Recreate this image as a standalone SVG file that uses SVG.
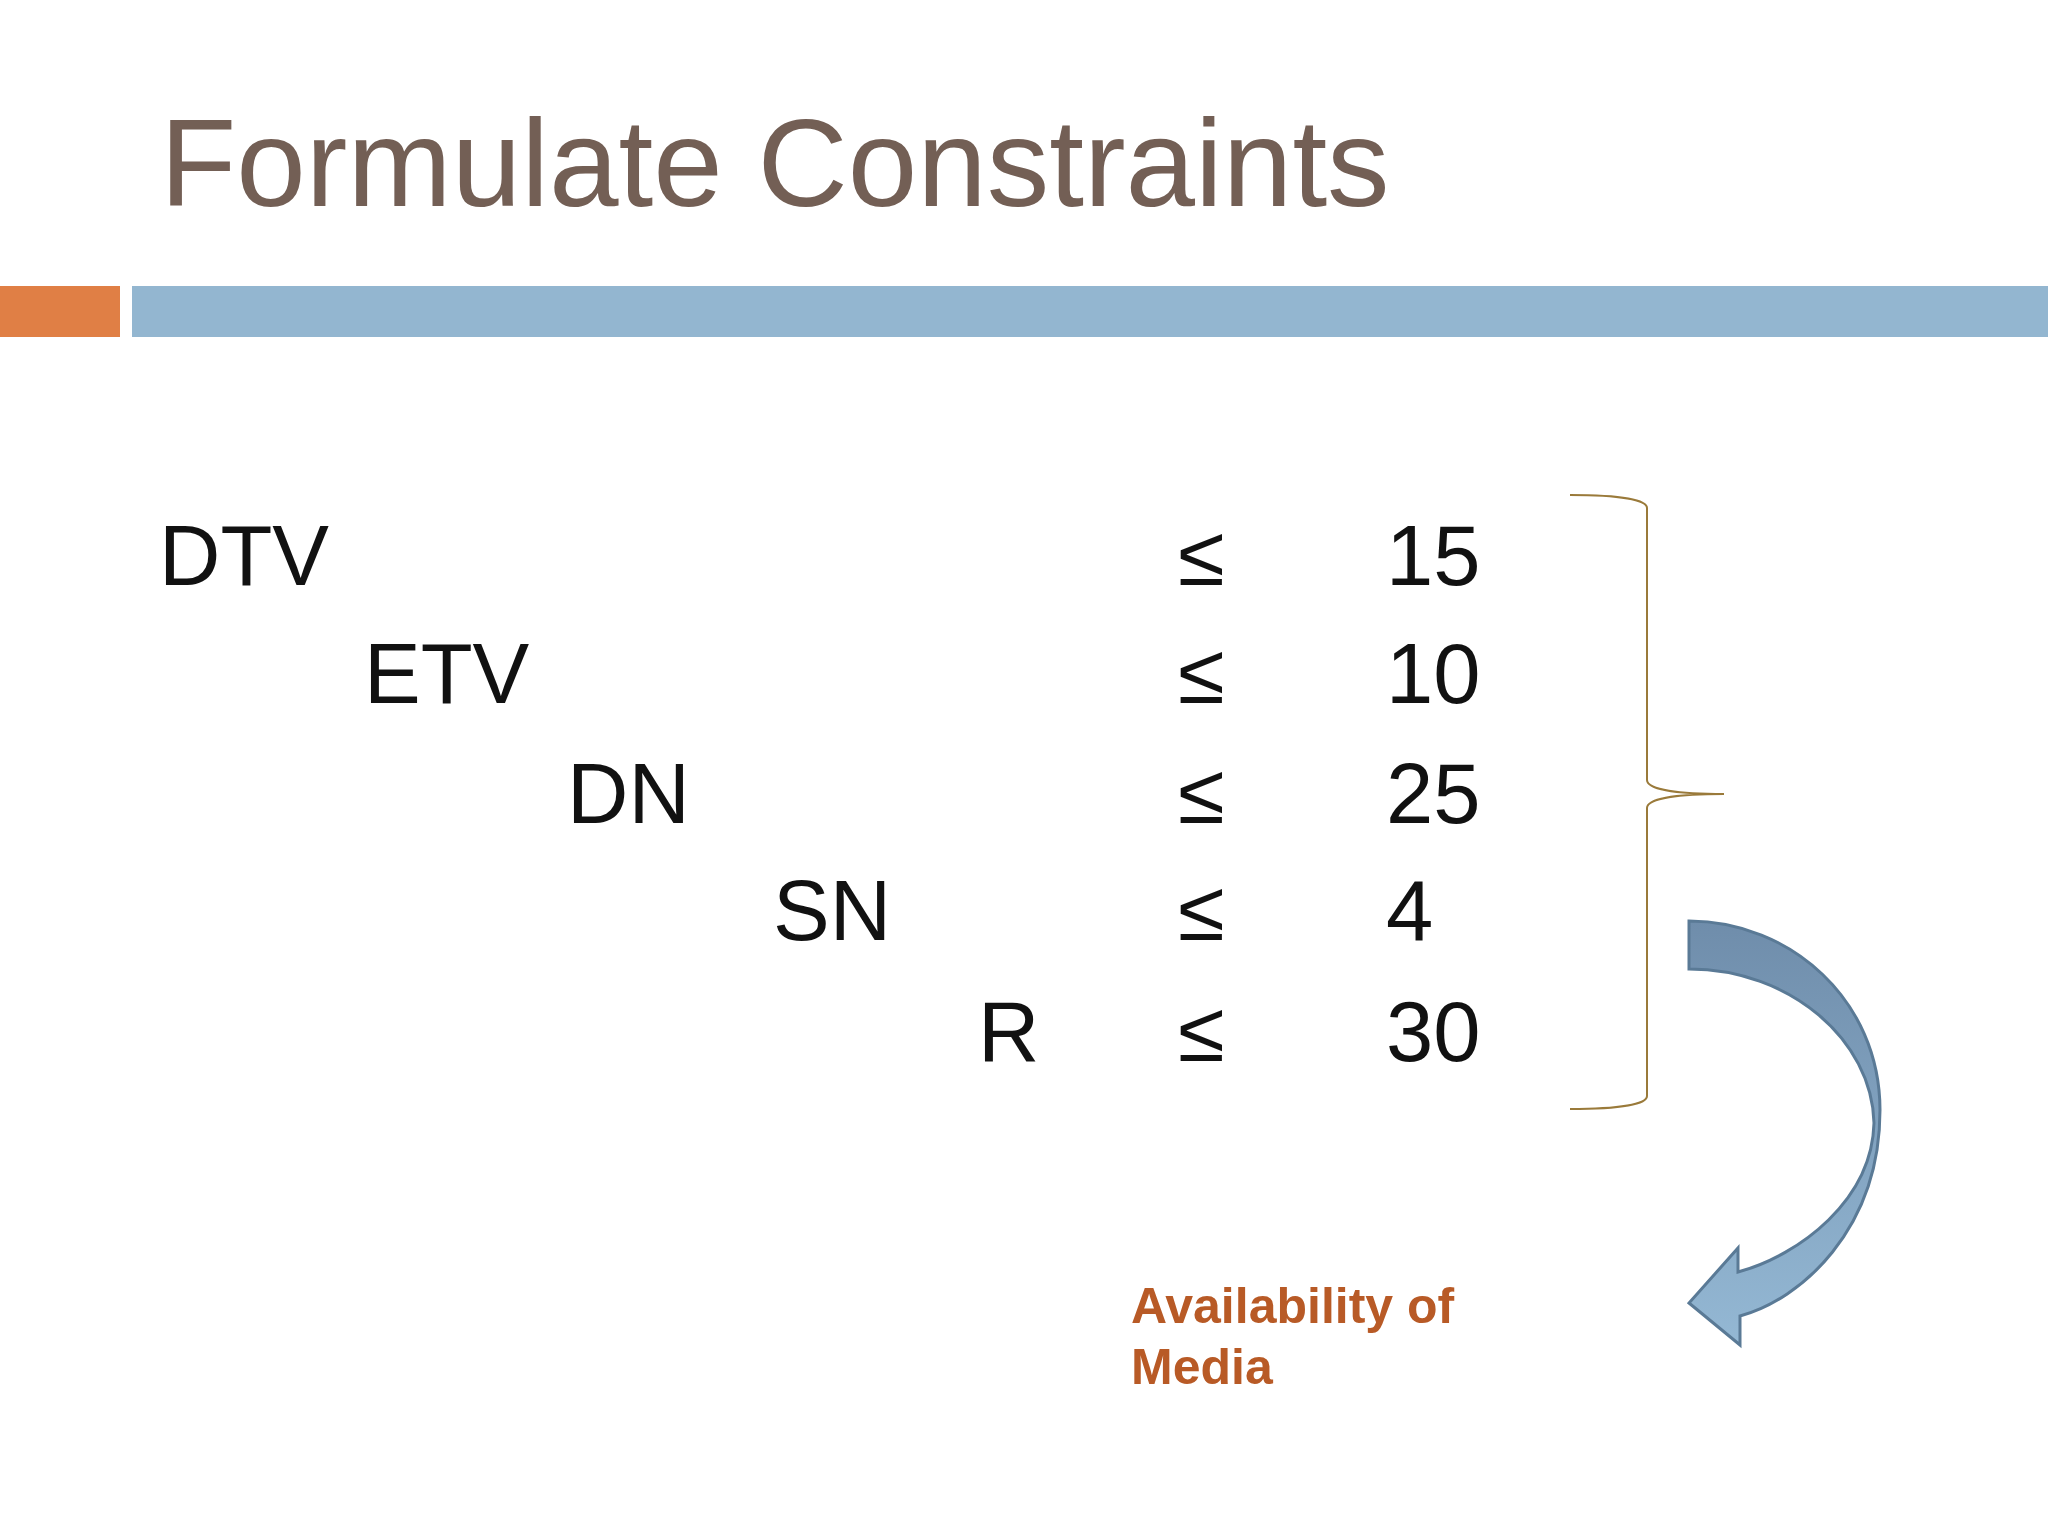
<svg xmlns="http://www.w3.org/2000/svg" width="2048" height="1536" viewBox="0 0 2048 1536">
<style>
.t{font-family:"Liberation Sans",Arial,sans-serif;font-size:85px;fill:#111}
</style>
<defs><linearGradient id="g" x1="0" y1="0" x2="0" y2="1"><stop offset="0" stop-color="#6f8dab"/><stop offset="1" stop-color="#94b8d4"/></linearGradient></defs>
<rect width="2048" height="1536" fill="#fff"/>
<g id="title"><text x="160" y="206" font-family="'Liberation Sans',Arial,sans-serif" font-size="125" fill="#735f55">Formulate Constraints</text></g>
<g id="bars"><rect x="0" y="286" width="120" height="51" fill="#e07f45"/><rect x="132" y="286" width="1916" height="51" fill="#93b6d0"/></g>
<g id="rows">
<text class="t" x="159" y="585">DTV</text>
<text class="t" x="364" y="703">ETV</text>
<text class="t" x="567" y="823">DN</text>
<text class="t" x="773" y="940">SN</text>
<text class="t" x="978" y="1061">R</text>
<text class="t" x="1178" y="585">≤</text><text class="t" x="1386" y="585">15</text>
<text class="t" x="1178" y="703">≤</text><text class="t" x="1386" y="703">10</text>
<text class="t" x="1178" y="823">≤</text><text class="t" x="1386" y="823">25</text>
<text class="t" x="1178" y="940">≤</text><text class="t" x="1386" y="940">4</text>
<text class="t" x="1178" y="1061">≤</text><text class="t" x="1386" y="1061">30</text>
</g>
<g id="brace"><path d="M1570,495 C1620,495 1647,500 1647,508 L1647,780 C1647,790 1680,794 1724,794 C1680,794 1647,798 1647,808 L1647,1096 C1647,1104 1620,1109 1570,1109" fill="none" stroke="#9a7a3a" stroke-width="2"/></g>
<g id="arrow"><path d="M1689,921 C1790,921 1880,1000 1880,1110 C1880,1230 1800,1300 1740,1316 L1740,1345 L1689,1303 L1738,1248 L1738,1272 C1800,1255 1872,1200 1874,1123 C1872,1040 1790,969 1689,969 Z" fill="url(#g)" stroke="#5a7a96" stroke-width="3"/></g>
<g id="label" font-family="'Liberation Sans',Arial,sans-serif" font-weight="bold" font-size="50" fill="#b85a26"><text x="1131" y="1323">Availability of</text><text x="1131" y="1384">Media</text></g>
</svg>
